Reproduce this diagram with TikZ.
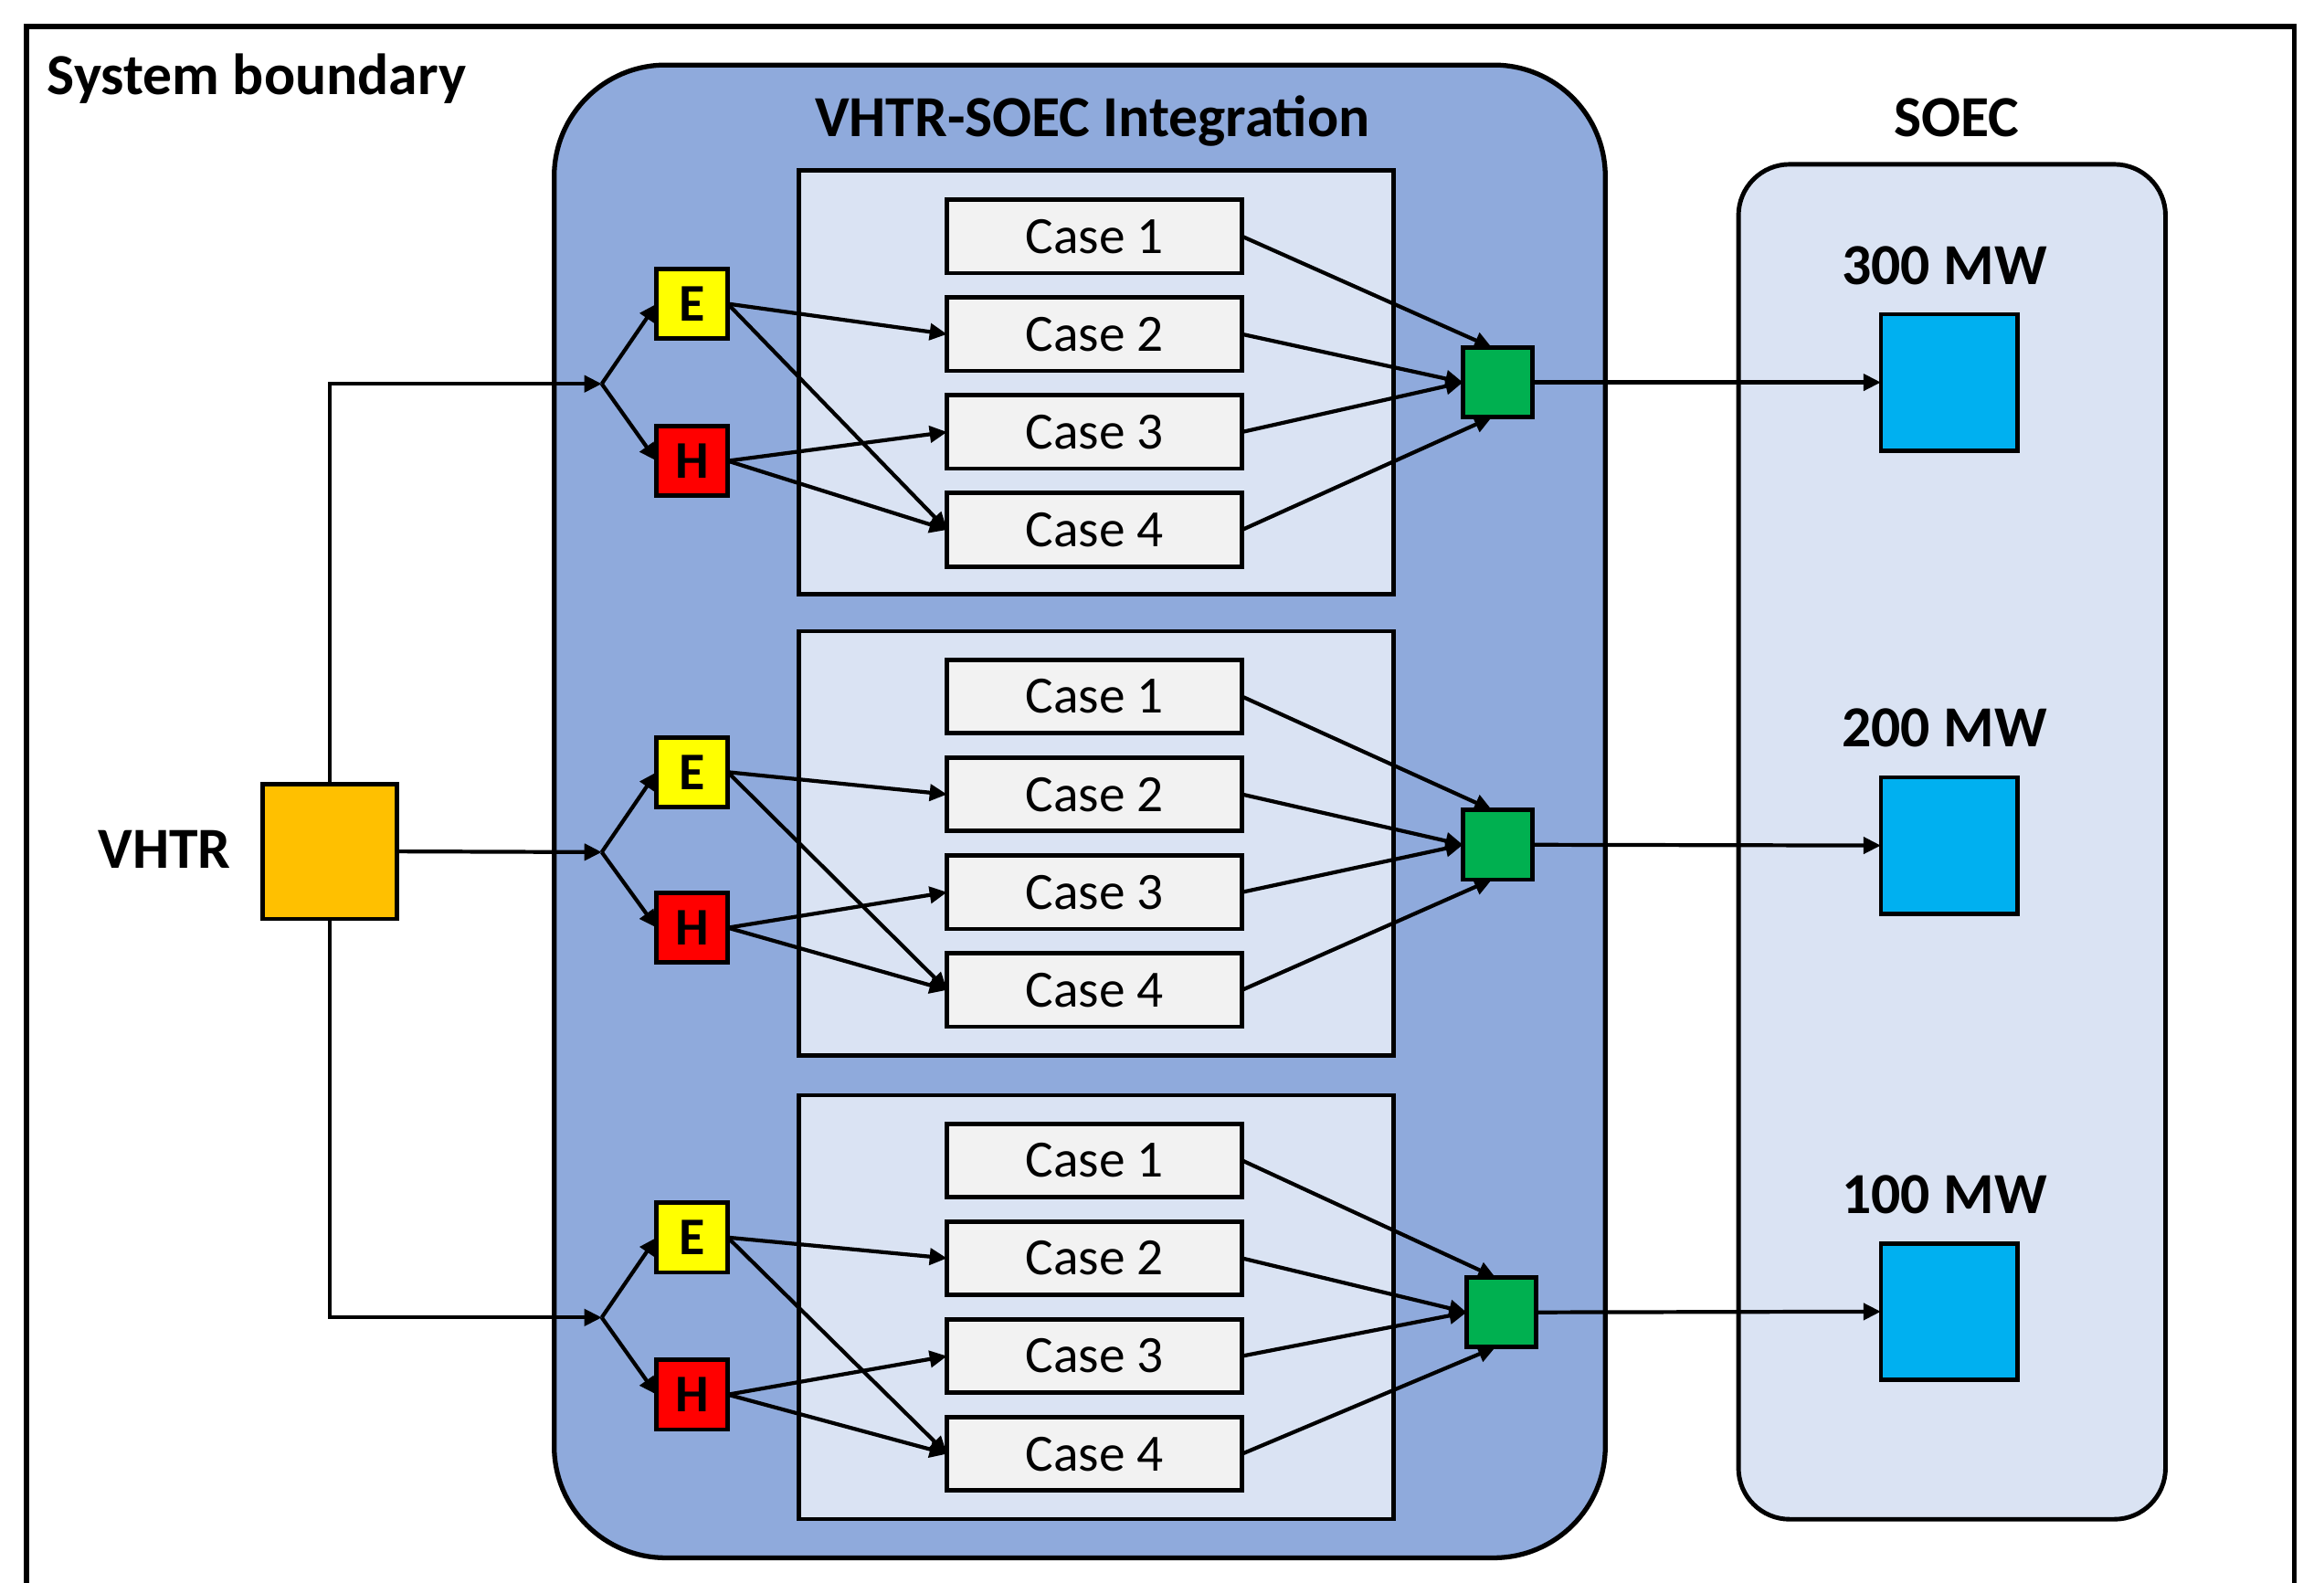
\documentclass[tikz,border=0pt]{standalone}
\usepackage{fontspec}
\setmainfont{Carlito}
\usetikzlibrary{arrows.meta,calc}
\definecolor{integblue}{HTML}{8FAADC}
\definecolor{lightblue}{HTML}{DAE3F3}
\definecolor{casegray}{HTML}{F2F2F2}
\definecolor{eyellow}{HTML}{FFFF00}
\definecolor{hred}{HTML}{FF0000}
\definecolor{outgreen}{HTML}{00B050}
\definecolor{soecblue}{HTML}{00B0F0}
\definecolor{vhtrorange}{HTML}{FFC000}
\begin{document}
\begin{tikzpicture}[x=0.016224cm,y=-0.016224cm,
  every node/.style={inner sep=0pt, outer sep=0pt},
  frame/.style={line width=1.6pt},
  box/.style={draw, line width=1.35pt},
  bigbold/.style={font=\fontsize{18.1}{20}\selectfont\bfseries},
  integbox/.style={box, line width=1.5pt, fill=integblue, rounded corners=1.22cm, minimum width=11.503cm, minimum height=16.338cm},
  soecbox/.style={box, line width=1.4pt, fill=lightblue, rounded corners=0.56cm, minimum width=4.673cm, minimum height=14.829cm},
  innerbox/.style={box, fill=lightblue, minimum width=6.506cm, minimum height=4.640cm},
  casebox/.style={box, fill=casegray, minimum width=3.229cm, minimum height=0.803cm, font=\fontsize{16.3}{18}\selectfont},
  ebox/.style={box, fill=eyellow, minimum width=0.779cm, minimum height=0.763cm, font=\fontsize{16.5}{18}\selectfont\bfseries},
  hbox/.style={ebox, fill=hred},
  gbox/.style={box, fill=outgreen, minimum width=0.763cm, minimum height=0.763cm},
  sbox/.style={box, fill=soecblue, minimum width=1.493cm, minimum height=1.493cm},
  vbox/.style={box, fill=vhtrorange, minimum width=1.476cm, minimum height=1.476cm},
  conn/.style={line width=1.2pt, -{Triangle[length=0.19cm,width=0.18cm]}}
]
\useasboundingbox (0,0) rectangle (1568,1068);
% system boundary frame
\draw[frame] (18,1080) -- (18,18) -- (1548,18) -- (1548,1080);
\node[bigbold, anchor=base west] (sysb) at (32,64) {System boundary};

% main containers
\node[integbox] (integ) at (728.5,547.5) {};
\node[bigbold, anchor=base] (integt) at (737,92) {VHTR-SOEC Integration};
\node[soecbox] (soec) at (1317,568) {};
\node[bigbold, anchor=base] (soect) at (1320,92) {SOEC};

% VHTR
\node[vbox] (vhtr) at (222.5,574.5) {};
\node[bigbold, anchor=base] (vhtrt) at (111,586) {VHTR};

\foreach \g/\by/\ey/\hy/\gx/\gy/\iy/\ca/\sy/\mw/\my in {
  1/259/205/311/1010.5/258/258/159.5/258/300/192,
  2/575/521/626/1010.5/570/569/470/570.5/200/504,
  3/889/835/941/1013/885.5/882/783/885/100/819}{
  \node[innerbox] (in\g) at (739.5,\iy) {};
  \foreach \k in {1,...,4}{
    \node[casebox] (c\g\k) at (738.5,{\ca+66*(\k-1)}) {Case \k};
  }
  \coordinate (b\g) at (406,\by);
  \node[ebox] (E\g) at (467,\ey) {E};
  \node[hbox] (H\g) at (467,\hy) {H};
  \node[gbox] (G\g) at (\gx,\gy) {};
  \node[sbox] (S\g) at (1315,\sy) {};
  \node[bigbold, anchor=base] (mw\g) at (1312,\my) {\mw\ MW};
  \draw[conn] (b\g) -- (E\g.west);
  \draw[conn] (b\g) -- (H\g.west);
  \draw[conn] (E\g.east) -- (c\g2.west);
  \draw[conn] (E\g.east) -- (c\g4.west);
  \draw[conn] (H\g.east) -- (c\g3.west);
  \draw[conn] (H\g.east) -- (c\g4.west);
  \draw[conn] (c\g1.east) -- ($(G\g.north)+(-4,0)$);
  \draw[conn] (c\g2.east) -- (G\g.west);
  \draw[conn] (c\g3.east) -- (G\g.west);
  \draw[conn] (c\g4.east) -- ($(G\g.south)+(-4,0)$);
  \draw[conn] (G\g.east) -- (S\g.west);
}

\draw[conn] (vhtr.north) |- (b1);
\draw[conn] (vhtr.east) -- (b2);
\draw[conn] (vhtr.south) |- (b3);
\end{tikzpicture}
\end{document}
